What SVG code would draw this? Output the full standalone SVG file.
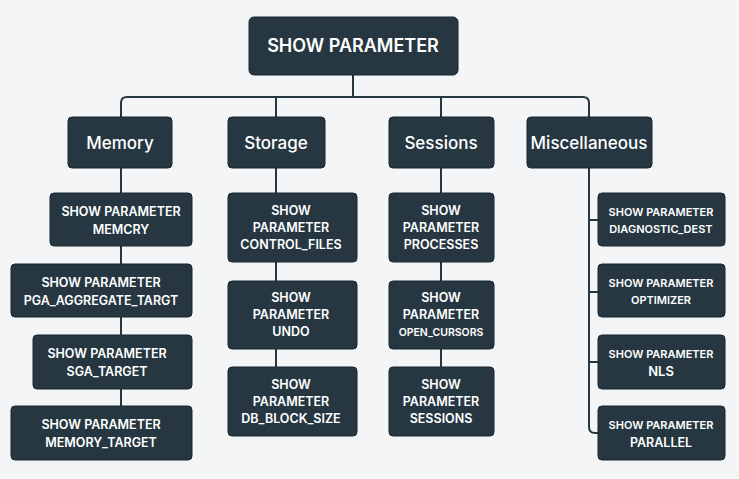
<svg xmlns="http://www.w3.org/2000/svg" width="739" height="479" viewBox="0 0 739 479">
<style>
.n{fill:#263742;stroke:#1b2730;stroke-width:1}
.t{fill:#fff;font-family:"Inter","Liberation Sans",sans-serif;font-weight:600;text-anchor:middle}
.s{font-size:12.5px}
.h{font-size:17px;font-weight:500}
.c{fill:none;stroke:#263742;stroke-width:2}
</style>
<rect width="739" height="479" fill="#f3f5f6"/>
<g id="connectors">
<path class="c" d="M353 75V97M121 117V103Q121 97 127 97H583Q589 97 589 103V117M276 97V117M441 97V117"/>
<path class="c" d="M121 168V406M276 168V367M441 168V367"/>
<path class="c" d="M589 168V427Q589 433 595 433H598M589 220H598M589 292H598M589 362H598"/>
</g>
<g id="root"><rect class="n" x="249" y="17" width="209" height="58" rx="5"/><text class="t" x="353" y="52" font-size="18" font-weight="700">SHOW PARAMETER</text></g>
<g id="memory"><rect class="n" x="68" y="117" width="104" height="51" rx="4"/><text class="t h" x="120" y="149">Memory</text></g>
<g id="storage"><rect class="n" x="228" y="117" width="97" height="51" rx="4"/><text class="t h" x="276" y="149">Storage</text></g>
<g id="sessions"><rect class="n" x="389" y="117" width="105" height="51" rx="4"/><text class="t h" x="441" y="149">Sessions</text></g>
<g id="misc"><rect class="n" x="527" y="117" width="125" height="51" rx="4"/><text class="t h" x="589" y="149">Miscellaneous</text></g>
<g id="m1"><rect class="n" x="50" y="193" width="142" height="53" rx="4"/><text class="t s" x="121" y="216">SHOW PARAMETER<tspan x="121" dy="18">MEMCRY</tspan></text></g>
<g id="m2"><rect class="n" x="11" y="264" width="181" height="53" rx="4"/><text class="t s" x="101" y="287">SHOW PARAMETER<tspan x="101" dy="18">PGA_AGGREGATE_TARGT</tspan></text></g>
<g id="m3"><rect class="n" x="33" y="335" width="159" height="54" rx="4"/><text class="t s" x="107" y="358">SHOW PARAMETER<tspan x="107" dy="18">SGA_TARGET</tspan></text></g>
<g id="m4"><rect class="n" x="11" y="406" width="181" height="54" rx="4"/><text class="t s" x="101" y="429">SHOW PARAMETER<tspan x="101" dy="18">MEMORY_TARGET</tspan></text></g>
<g id="s1"><rect class="n" x="228" y="193" width="129" height="69" rx="4"/><text class="t s" x="291" y="215">SHOW<tspan x="291" dy="17">PARAMETER</tspan><tspan x="291" dy="17">CONTROL_FILES</tspan></text></g>
<g id="s2"><rect class="n" x="228" y="281" width="129" height="68" rx="4"/><text class="t s" x="291" y="302">SHOW<tspan x="291" dy="17">PARAMETER</tspan><tspan x="291" dy="17">UNDO</tspan></text></g>
<g id="s3"><rect class="n" x="228" y="367" width="129" height="69" rx="4"/><text class="t s" x="291" y="389">SHOW<tspan x="291" dy="17">PARAMETER</tspan><tspan x="291" dy="17">DB_BLOCK_SIZE</tspan></text></g>
<g id="e1"><rect class="n" x="389" y="193" width="105" height="69" rx="4"/><text class="t s" x="441" y="215">SHOW<tspan x="441" dy="17">PARAMETER</tspan><tspan x="441" dy="17">PROCESSES</tspan></text></g>
<g id="e2"><rect class="n" x="389" y="281" width="105" height="68" rx="4"/><text class="t s" x="441" y="302">SHOW<tspan x="441" dy="17">PARAMETER</tspan><tspan x="441" dy="17" font-size="10.5">OPEN_CURSORS</tspan></text></g>
<g id="e3"><rect class="n" x="389" y="367" width="105" height="69" rx="4"/><text class="t s" x="441" y="389">SHOW<tspan x="441" dy="17">PARAMETER</tspan><tspan x="441" dy="17">SESSIONS</tspan></text></g>
<g id="x1"><rect class="n" x="598" y="193" width="127" height="53" rx="4"/><text class="t" font-size="11" x="661" y="216">SHOW PARAMETER<tspan x="661" dy="17">DIAGNOSTIC_DEST</tspan></text></g>
<g id="x2"><rect class="n" x="598" y="264" width="127" height="53" rx="4"/><text class="t" font-size="11" x="661" y="287">SHOW PARAMETER<tspan x="661" dy="17">OPTIMIZER</tspan></text></g>
<g id="x3"><rect class="n" x="598" y="335" width="127" height="54" rx="4"/><text class="t" font-size="11" x="661" y="358">SHOW PARAMETER<tspan x="661" dy="18" font-size="13">NLS</tspan></text></g>
<g id="x4"><rect class="n" x="598" y="406" width="127" height="54" rx="4"/><text class="t" font-size="11" x="661" y="429">SHOW PARAMETER<tspan x="661" dy="18" font-size="12.5">PARALLEL</tspan></text></g>
</svg>
